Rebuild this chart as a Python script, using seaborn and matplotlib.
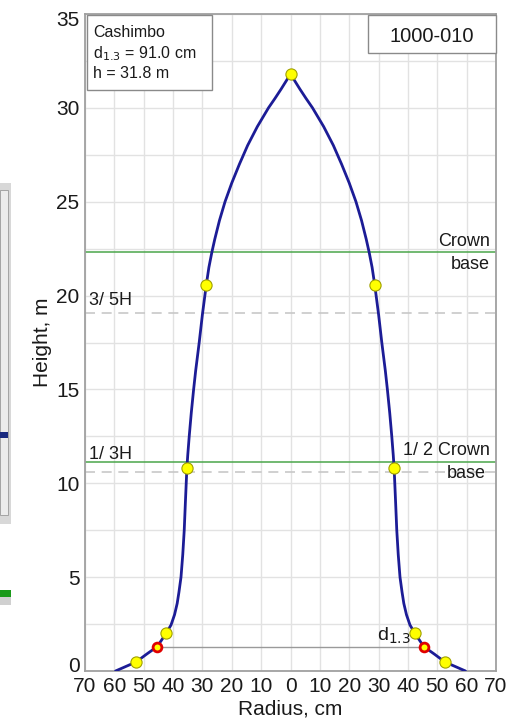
import numpy as np
import pandas as pd
import matplotlib
matplotlib.use("Agg")
import matplotlib.pyplot as plt
import matplotlib.transforms as mtransforms
import seaborn as sns
from matplotlib.patches import Rectangle

# ---- data ----
profile_height = [0.0, 0.48, 0.9, 1.3, 1.65, 2.0, 2.45, 3.0, 3.6, 4.2, 5.0, 6.2, 7.5,
                  9.0, 10.8, 11.5, 12.5, 13.75, 15.0, 16.0, 17.5, 19.0, 20.56, 21.5, 22.3,
                  23.0, 24.0, 25.0, 26.0, 27.0, 28.0, 29.0, 30.0, 30.5, 31.0, 31.4, 31.8]
profile_radius = [59.6, 52.6, 49.0, 45.4, 43.9, 42.4, 40.7, 39.5, 38.6, 38.0, 37.3, 36.7, 36.2,
                  35.8, 35.3, 35.0, 34.5, 33.8, 33.0, 32.3, 31.1, 30.0, 28.7, 27.8, 26.8,
                  25.8, 24.2, 22.3, 20.0, 17.4, 14.6, 11.3, 7.5, 5.3, 3.2, 1.6, 0.0]

meas_height = [0.48, 2.0, 10.83, 20.56, 31.8]
meas_radius = [52.6, 42.4, 35.3, 28.7, 0.0]

d13_height = 1.3
d13_radius = 45.5

tree_height = 31.8
crown_base = 22.3
species = "Cashimbo"
tree_id = "1000-010"
dbh_cm = 91.0

x_ticks = [-70, -60, -50, -40, -30, -20, -10, 0, 10, 20, 30, 40, 50, 60, 70]
x_tick_labels = [str(abs(v)) for v in x_ticks]
y_ticks = [0, 5, 10, 15, 20, 25, 30, 35]

# ---- build frames ----
left_x = [-r for r in profile_radius]
curve = pd.DataFrame({
    "x": left_x + profile_radius[::-1][1:],
    "y": profile_height + profile_height[::-1][1:],
})
pts = pd.DataFrame({
    "x": [-r for r in meas_radius] + [r for r in meas_radius if r != 0],
    "y": meas_height + [h for h, r in zip(meas_height, meas_radius) if r != 0],
})
d13 = pd.DataFrame({"x": [-d13_radius, d13_radius], "y": [d13_height, d13_height]})

sns.set_style("whitegrid")
plt.rcParams["font.family"] = ["Liberation Sans", "DejaVu Sans"]

W, H = 520, 721
fig = plt.figure(figsize=(W / 100, H / 100), dpi=100)
ax = fig.add_axes([85/W, 50/H, 411/W, 657/H])

# grid
ax.set_xlim(-70, 70)
ax.set_ylim(0, 35)
ax.set_xticks(x_ticks)
ax.set_xticklabels(x_tick_labels)
ax.set_yticks(y_ticks)
ax.set_yticks(np.arange(0, 35.1, 2.5), minor=True)
ax.grid(True, which="both", color="#e2e2e2", lw=1.0)
ax.set_axisbelow(True)
ax.tick_params(axis="both", which="both", length=0, labelsize=15, colors="#1a1a1a")
ax.tick_params(axis="y", pad=4)
ax.tick_params(axis="x", pad=4)
for s in ax.spines.values():
    s.set_color("#a0a0a0")
    s.set_linewidth(1.3)
ylabels = ax.get_yticklabels()
up = mtransforms.ScaledTranslation(0, 7/100, fig.dpi_scale_trans)
down = mtransforms.ScaledTranslation(0, -5/100, fig.dpi_scale_trans)
ylabels[0].set_transform(ylabels[0].get_transform() + up)
ylabels[-1].set_transform(ylabels[-1].get_transform() + down)

# reference lines
green = "#4aa64a"
ax.axhline(crown_base, color=green, lw=1.1, zorder=2)
ax.axhline(crown_base / 2, color=green, lw=1.1, zorder=2)
ax.axhline(tree_height * 3 / 5, color="#c8c8c8", lw=1.2, ls=(0, (6, 4)), zorder=2)
ax.axhline(tree_height / 3, color="#c8c8c8", lw=1.2, ls=(0, (6, 4)), zorder=2)
sns.lineplot(data=d13, x="x", y="y", color="#9a9a9a", lw=1.0, ax=ax, zorder=2)

# stem profile
sns.lineplot(data=curve, x="x", y="y", sort=False, estimator=None, color="#1c1c96",
             lw=2.0, ax=ax, zorder=3)
sns.scatterplot(data=pts, x="x", y="y", color="#ffff00", edgecolor="#a0a000",
                linewidth=0.8, s=65, ax=ax, zorder=4)
sns.scatterplot(data=d13, x="x", y="y", color="#ffff00", edgecolor="#e00000",
                linewidth=2.0, s=40, ax=ax, zorder=5)

# labels
ax.set_xlabel("Radius, cm", fontsize=15, labelpad=3, color="#1a1a1a")
ax.set_ylabel("Height, m", fontsize=15, labelpad=3, color="#1a1a1a")

tk = dict(fontsize=13, color="#1a1a1a")
ax.text(68, crown_base + 0.15, "Crown", ha="right", va="bottom", **tk)
ax.text(68, crown_base - 0.2, "base", ha="right", va="top", **tk)
ax.text(68, crown_base / 2 + 0.15, "1/ 2 Crown", ha="right", va="bottom", **tk)
ax.text(66.5, crown_base / 2 - 0.2, "base", ha="right", va="top", **tk)
ax.text(-68.5, tree_height * 3 / 5 + 0.2, "3/ 5H", ha="left", va="bottom", **tk)
ax.text(-68.5, crown_base / 2 - 0.05, "1/ 3H", ha="left", va="bottom", **tk)
ax.text(41, d13_height + 0.05, "d$_{1.3}$", ha="right", va="bottom", fontsize=14,
        color="#1a1a1a")

# info box (fixed frame in pixel space)
def px_rect(x0, y0, x1, y1, **kw):
    fig.patches.append(Rectangle((x0 / W, 1 - y1 / H), (x1 - x0) / W, (y1 - y0) / H,
                                 transform=fig.transFigure, **kw))

px_rect(87, 15, 212, 90, fc="white", ec="#8a8a8a", lw=1.0, zorder=10)
fig.text(93 / W, 1 - 25 / H,
         f"{species}\nd$_{{1.3}}$ = {dbh_cm:.1f} cm\nh = {tree_height:.1f} m",
         ha="left", va="top", fontsize=11.5, color="#1a1a1a", linespacing=1.3, zorder=11)
px_rect(368, 15, 496, 53, fc="white", ec="#8a8a8a", lw=1.0, zorder=10)
fig.text(432 / W, 1 - 36 / H, tree_id, ha="center", va="center", fontsize=14.5,
         color="#1a1a1a", zorder=11)

# cropped window fragment at the far left
px_rect(0, 183, 11, 524, fc="#d8d8d8", ec="none")
px_rect(0, 190, 8, 515, fc="#ececec", ec="#9a9a9a", lw=0.6)
px_rect(0, 432, 8, 438, fc="#1a2a80", ec="none")
px_rect(0, 597, 11, 605, fc="#d0d0d0", ec="none")
px_rect(0, 590, 11, 597, fc="#1a9a1a", ec="none")

fig.savefig("out.png", dpi=100)
